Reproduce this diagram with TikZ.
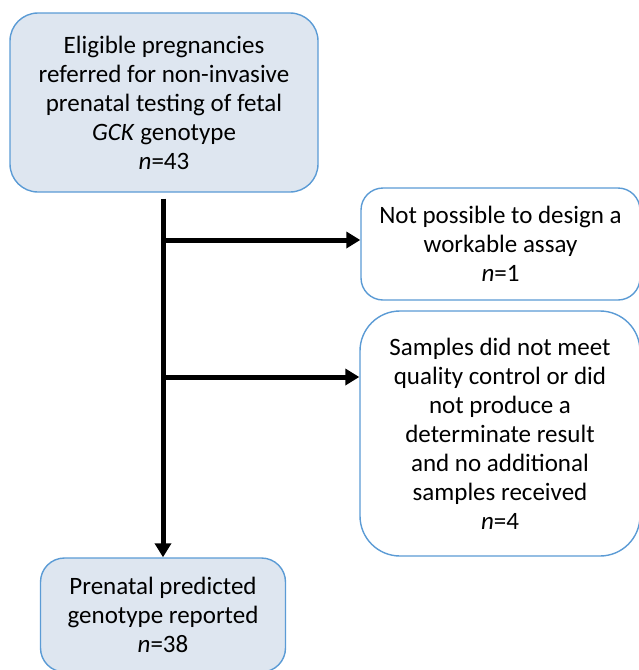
\documentclass[tikz,border=0pt]{standalone}
\usepackage{fontspec}
\setmainfont{Carlito}
\usetikzlibrary{positioning, arrows.meta}

\definecolor{boxline}{HTML}{5B9BD5}
\definecolor{boxfill}{HTML}{DEE6F0}

\begin{document}
\begin{tikzpicture}[
        x=1pt, y=-1pt,
        block/.style={
          rectangle,
          rounded corners=28pt,
          draw=boxline,
          line width=1.4pt,
          fill=boxfill,
          align=center,
          inner sep=0pt,
          font=\fontsize{25}{29}\selectfont
        },
        sidebox/.style={
          block,
          fill=white,
          rounded corners=22pt
        },
        flow/.style={
          line width=5pt,
          draw=black
        },
        arrow/.style={
          flow,
          -{Triangle[length=14pt, width=16pt]}
        }
      ]
      \useasboundingbox (0,0) rectangle (638,670);

      % Nodes
      \node [block, minimum width=308pt, minimum height=179pt] (eligible) at (164,102.5)
        {Eligible pregnancies\\ referred for non-invasive\\ prenatal testing of fetal\\ \textit{GCK} genotype\\ \textit{n}=43};
      \node [sidebox, minimum width=279pt, minimum height=112pt] (assay) at (500.5,244)
        {Not possible to design a\\ workable assay\\ \textit{n}=1};
      \node [sidebox, rounded corners=40pt, minimum width=280pt, minimum height=245pt] (quality) at (500,433.5)
        {Samples did not meet\\ quality control or did\\ not produce a\\ determinate result\\ and no additional\\ samples received\\ \textit{n}=4};
      \node [block, rounded corners=24pt, minimum width=245pt, minimum height=114pt] (reported) at (163,615)
        {Prenatal predicted\\ genotype reported\\ \textit{n}=38};

      % Branch points
      \coordinate (split1) at (163,240);
      \coordinate (split2) at (163,377);

      % Main arrow
      \draw [arrow, shorten <=6pt] (eligible.south -| reported.north) -- (reported.north);

      % Exclusion arrows
      \draw [arrow] (split1) -- (split1 -| assay.west);
      \draw [arrow] (split2) -- (split2 -| quality.west);

    \end{tikzpicture}
\end{document}
